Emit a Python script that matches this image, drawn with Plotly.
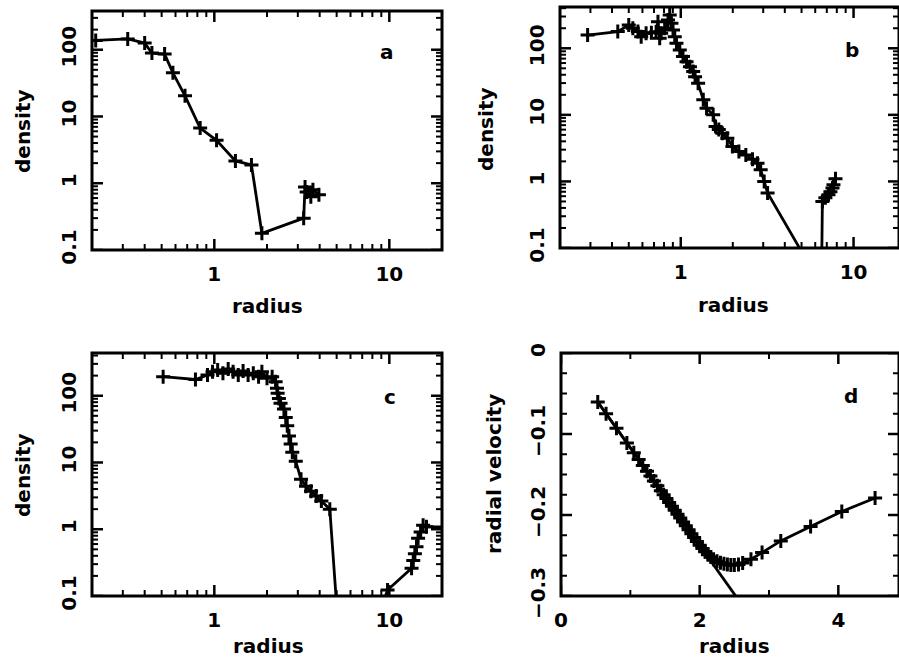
import math
import plotly.graph_objects as go

W, H = 899, 659

# ---------------- data ----------------
a_radius = [0.21, 0.32, 0.40, 0.44, 0.52, 0.58, 0.68, 0.83, 1.03, 1.32, 1.63, 1.87,
            3.24, 3.30, 3.66, 3.96, 3.56, 3.37]
a_density = [138, 145, 126, 89, 86, 45, 20.4, 6.7, 4.4, 2.16, 1.88, 0.178,
             0.30, 0.88, 0.80, 0.67, 0.63, 0.74]

b_radius = [0.289, 0.432, 0.50, 0.528, 0.565, 0.59, 0.63, 0.676, 0.72, 0.738, 0.755, 0.77,
            0.807, 0.844, 0.863, 0.883, 0.902, 0.923, 0.944, 0.987, 1.03, 1.08, 1.13, 1.18,
            1.21, 1.26, 1.35, 1.41, 1.54, 1.59, 1.66, 1.74, 1.86, 1.99, 2.17, 2.38, 2.60,
            2.78, 2.90, 3.04, 3.18, 6.52, 6.60, 6.87, 7.16, 7.35, 7.55, 7.65, 7.86]
b_density = [158, 178, 224, 200, 178, 149, 168, 171, 177, 251, 141, 168,
             200, 266, 316, 237, 188, 149, 119, 94, 75, 63, 53, 44.7,
             37.5, 29.8, 16.8, 12.6, 10.0, 6.7, 6.0, 5.3, 4.47, 3.35, 2.82, 2.5, 2.16,
             1.88, 1.5, 1.0, 0.67, 0.027, 0.50, 0.57, 0.63, 0.70, 0.80, 0.89, 1.10]

c_radius = [0.51, 0.78, 0.914, 0.977, 1.045, 1.12, 1.20, 1.28, 1.37, 1.46, 1.56, 1.67,
            1.79, 1.87, 2.00, 2.14, 2.24, 2.28, 2.30, 2.34, 2.39, 2.50, 2.56, 2.61, 2.67,
            2.73, 2.79, 2.92, 3.13, 3.34, 3.57, 3.82, 4.09, 4.57, 5.05, 8.4, 9.77, 13.4,
            13.7, 14.0, 14.3, 14.6, 15.1, 15.6, 16.3, 22.0]
c_density = [193, 175, 204, 229, 243, 217, 251, 229, 204, 235, 204, 217,
             193, 229, 182, 193, 162, 129, 109, 91, 77, 63, 47, 35.5, 25,
             18.9, 14.2, 10.4, 5.6, 4.4, 3.7, 3.16, 2.64, 2.0, 0.05, 0.04, 0.123, 0.26,
             0.34, 0.43, 0.545, 0.73, 0.91, 1.15, 1.09, 1.08]

d_radius = [0.53, 0.65, 0.80, 0.95, 1.05, 1.12, 1.18, 1.24, 1.29, 1.34, 1.39, 1.44, 1.48,
            1.52, 1.56, 1.60, 1.64, 1.68, 1.72, 1.76, 1.80, 1.84, 1.88, 1.92, 1.96, 2.00,
            2.04, 2.08, 2.12, 2.16, 2.20, 2.25, 2.30, 2.35, 2.40, 2.45, 2.50, 2.56, 2.62,
            2.74, 2.90, 3.17, 3.60, 4.05, 4.53]
d_velocity = [-0.0605, -0.075, -0.093, -0.1111, -0.1231, -0.1315, -0.1388, -0.1460, -0.1520,
              -0.1580, -0.1640, -0.1701, -0.1749, -0.1797, -0.1845, -0.1893, -0.1942, -0.1990,
              -0.2038, -0.2086, -0.2134, -0.2182, -0.2230, -0.2279, -0.2327, -0.2372,
              -0.2415, -0.2455, -0.2490, -0.2520, -0.2545, -0.2570, -0.2590, -0.2603,
              -0.2612, -0.2617, -0.2618, -0.2610, -0.2592, -0.2546, -0.2464, -0.2320,
              -0.2142, -0.1957, -0.1790]

d_line_radius = [0.53, 2.62]
d_line_velocity = [-0.0605, -0.3121]

# tick values (labels and tick marks)
log_x_major = [1, 10]
log_x_major_text = ["1", "10"]
log_x_minor = [0.2, 0.3, 0.4, 0.5, 0.6, 0.7, 0.8, 0.9, 2, 3, 4, 5, 6, 7, 8, 9, 20]
log_y_major = [0.1, 1, 10, 100]
log_y_major_text = ["0.1", "1", "10", "100"]
log_y_minor = [0.2, 0.3, 0.4, 0.5, 0.6, 0.7, 0.8, 0.9, 2, 3, 4, 5, 6, 7, 8, 9,
               20, 30, 40, 50, 60, 70, 80, 90, 200, 300, 400]
d_x_major = [0, 2, 4]
d_x_major_text = ["0", "2", "4"]
d_x_minor = [1, 3]
d_y_major = [0, -0.1, -0.2, -0.3]
d_y_major_text = ["0", "\u22120.1", "\u22120.2", "\u22120.3"]
d_y_minor = [-0.025, -0.05, -0.075, -0.125, -0.15, -0.175, -0.225, -0.25, -0.275]

# ---------------- layout helpers ----------------
FONT = dict(family="DejaVu Sans", size=20, color="black", weight="bold")
lg = math.log10
MAJOR_LEN, MINOR_LEN = 11, 6


def px_x(x0, x1):
    return [x0 / W, min(x1 / W, 1.0)]


def px_y(y0, y1):
    return [1 - y1 / H, 1 - y0 / H]


def axis(rng, typ, vals, text, anchor, domain, ylike=False):
    d = dict(range=rng, type=typ, anchor=anchor, automargin=False, domain=domain,
             tickmode="array", tickvals=vals, ticktext=text, ticks="",
             showline=False, mirror=False, showgrid=False, zeroline=False,
             tickfont=FONT)
    if ylike:
        d["tickangle"] = -90
        d["ticklabelstandoff"] = 11
    else:
        d["ticklabelstandoff"] = 10
    return d


fig = go.Figure()

line_style = dict(color="black", width=2.8)
marker_style = dict(symbol="cross-thin", size=10, line=dict(color="black", width=3))

fig.add_trace(go.Scatter(x=a_radius, y=a_density, mode="lines+markers",
                         line=line_style, marker=marker_style, xaxis="x", yaxis="y"))
fig.add_trace(go.Scatter(x=b_radius, y=b_density, mode="lines+markers",
                         line=line_style, marker=marker_style, xaxis="x2", yaxis="y2"))
fig.add_trace(go.Scatter(x=c_radius, y=c_density, mode="lines+markers",
                         line=line_style, marker=marker_style, xaxis="x3", yaxis="y3"))
fig.add_trace(go.Scatter(x=d_line_radius, y=d_line_velocity, mode="lines",
                         line=line_style, xaxis="x4", yaxis="y4"))
fig.add_trace(go.Scatter(x=d_radius, y=d_velocity, mode="lines+markers",
                         line=line_style, marker=marker_style, xaxis="x4", yaxis="y4"))

LOG_X = (log_x_major, log_x_major_text, log_x_minor)
LOG_Y = (log_y_major, log_y_major_text, log_y_minor)
panels = [
    ((92, 442), (11, 250), [lg(0.2), lg(20)], [-1, 2.58], "log", "log", LOG_X, LOG_Y),
    ((560, 899), (7, 248), [lg(0.2), 1.263], [-1, 2.62], "log", "log", LOG_X, LOG_Y),
    ((92, 442), (353, 596), [lg(0.2), lg(20)], [-1, 2.64], "log", "log", LOG_X, LOG_Y),
    ((561, 899), (353, 596), [0, 4.875], [-0.3, 0], "linear", "linear",
     (d_x_major, d_x_major_text, d_x_minor), (d_y_major, d_y_major_text, d_y_minor)),
]


def to_pos(v, typ):
    return lg(v) if typ == "log" else v


def to_data(p, typ):
    return 10 ** p if typ == "log" else p


lay = {}
shapes = []
for i, (dx, dy, xr, yr, xt, yt, xticks, yticks) in enumerate(panels):
    n = i + 1
    s = "" if n == 1 else str(n)
    xn, yn = "x" + s, "y" + s
    lay["xaxis" + s] = axis(xr, xt, xticks[0], xticks[1], yn, px_x(*dx))
    lay["yaxis" + s] = axis(yr, yt, yticks[0], yticks[1], xn, px_y(*dy), ylike=True)
    wpx = min(dx[1], W) - dx[0]
    hpx = dy[1] - dy[0]
    xspan = xr[1] - xr[0]
    yspan = yr[1] - yr[0]

    for vals_x, vals_y, ln, wd in ((xticks[0], yticks[0], MAJOR_LEN, 2.5),
                                   (xticks[2], yticks[2], MINOR_LEN, 2.0)):
        tx, ty = [], []
        fy = ln / hpx * yspan
        for v in vals_x:
            p = to_pos(v, xt)
            if p < xr[0] - 1e-9 or p > xr[1] + 1e-9:
                continue
            # bottom and top tick marks, pointing into the plot
            tx += [v, v, None, v, v, None]
            ty += [to_data(yr[0], yt), to_data(yr[0] + fy, yt), None,
                   to_data(yr[1], yt), to_data(yr[1] - fy, yt), None]
        fx = ln / wpx * xspan
        for v in vals_y:
            p = to_pos(v, yt)
            if p < yr[0] - 1e-9 or p > yr[1] + 1e-9:
                continue
            # left and right tick marks
            tx += [to_data(xr[0], xt), to_data(xr[0] + fx, xt), None,
                   to_data(xr[1], xt), to_data(xr[1] - fx, xt), None]
            ty += [v, v, None, v, v, None]
        fig.add_trace(go.Scatter(x=tx, y=ty, mode="lines", connectgaps=False,
                                 line=dict(color="black", width=wd),
                                 xaxis=xn, yaxis=yn, hoverinfo="skip"))
    # frame
    shapes.append(dict(type="rect", xref=xn + " domain", yref=yn + " domain",
                       x0=0, x1=1, y0=0, y1=1, line=dict(color="black", width=3),
                       layer="above"))

fig.update_layout(width=W, height=H, margin=dict(l=0, r=0, t=0, b=0),
                  paper_bgcolor="white", plot_bgcolor="white", showlegend=False,
                  shapes=shapes, **lay)

ann = []


def text(x, y, s, angle=0):
    ann.append(dict(x=x / W, y=1 - y / H, xref="paper", yref="paper", text=s,
                    showarrow=False, font=FONT, textangle=angle,
                    xanchor="center", yanchor="middle"))


text(267, 306, "radius")
text(733, 305, "radius")
text(268, 646, "radius")
text(734, 646, "radius")
text(23, 132, "density", -90)
text(486, 129, "density", -90)
text(23, 476, "density", -90)
text(494, 474, "radial velocity", -90)
text(387, 52, "a")
text(852, 50, "b")
text(390, 397, "c")
text(851, 396, "d")
fig.update_layout(annotations=ann)

fig.write_html("out.html", config={"displayModeBar": False},
               post_script="document.body.style.margin='0px';"
                           "document.body.style.overflow='hidden';")
